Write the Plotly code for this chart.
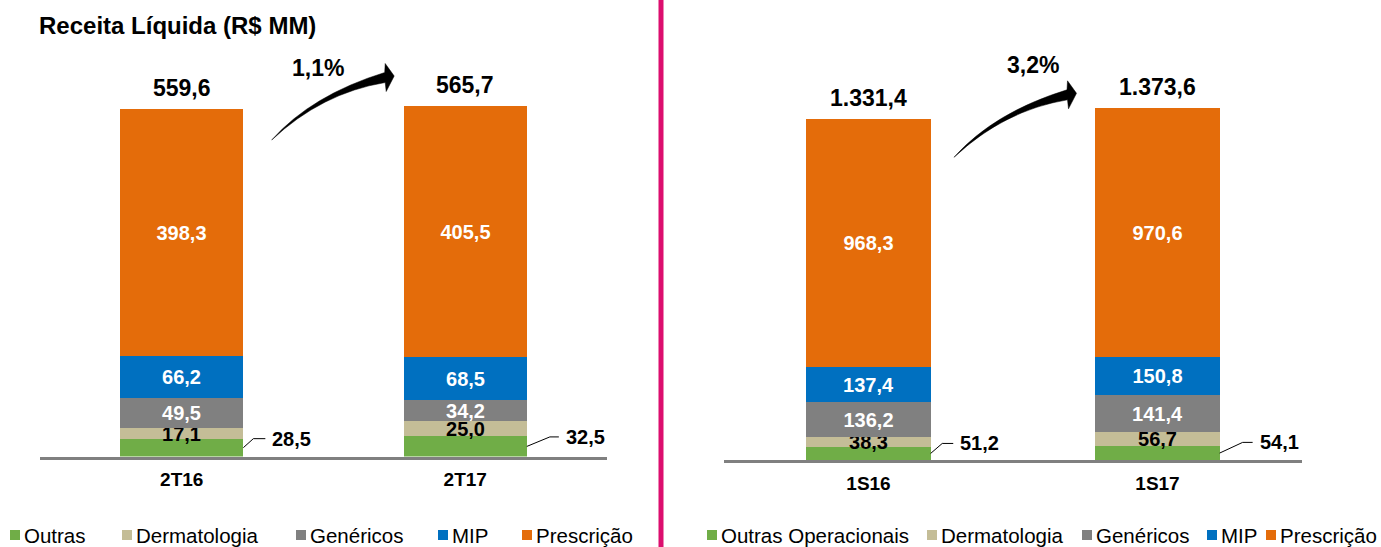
import plotly.graph_objects as go

# ---------------- data ----------------
quarters = ["2T16", "2T17"]
semesters = ["1S16", "1S17"]

segments_q = ["Outras", "Dermatologia", "Genéricos", "MIP", "Prescrição"]
segments_s = ["Outras Operacionais", "Dermatologia", "Genéricos", "MIP", "Prescrição"]

outras_q = [28.5, 32.5]
derm_q = [17.1, 25.0]
gen_q = [49.5, 34.2]
mip_q = [66.2, 68.5]
presc_q = [398.3, 405.5]
total_q = [559.6, 565.7]
growth_q = "1,1%"

outras_s = [51.2, 54.1]
derm_s = [38.3, 56.7]
gen_s = [136.2, 141.4]
mip_s = [137.4, 150.8]
presc_s = [968.3, 970.6]
total_s = [1331.4, 1373.6]
growth_s = "3,2%"

title = "Receita Líquida (R$ MM)"

# ---------------- style ----------------
colors = ["#70AD47", "#C4BD97", "#808080", "#0070C0", "#E46C0A"]
label_colors = ["black", "black", "white", "white", "white"]
FONT = "Liberation Sans, Arial, sans-serif"
W, H = 1381, 547


def px(x):
    return x / W


def py(y):
    return 1 - y / H


def fmt(v):
    s = f"{v:,.1f}"
    return s.replace(",", "X").replace(".", ",").replace("X", ".")


fig = go.Figure()

panels = [
    dict(cats=quarters, names=segments_q, vals=[outras_q, derm_q, gen_q, mip_q, presc_q],
         totals=total_q, xa="x", ya="y", width=0.4346),
    dict(cats=semesters, names=segments_s, vals=[outras_s, derm_s, gen_s, mip_s, presc_s],
         totals=total_s, xa="x2", ya="y2", width=0.43),
]

for p in panels:
    for k, (name, vals) in enumerate(zip(p["names"], p["vals"])):
        texts = ["" if k == 0 else fmt(v) for v in vals]
        fig.add_trace(go.Bar(
            x=p["cats"], y=vals, name=name, marker=dict(color=colors[k], line=dict(width=0)),
            width=p["width"], text=texts, textposition="inside", insidetextanchor="middle",
            textangle=0, constraintext="none",
            textfont=dict(family=FONT, size=20, color=label_colors[k], weight="bold"),
            xaxis=p["xa"], yaxis=p["ya"], showlegend=False, hoverinfo="skip",
        ))

# axes geometry
left_dom = (40, 607)
right_dom = (724, 1302)
left_base, right_base = 456.5, 460
left_ymax, right_ymax = 736, 1797

axis_common = dict(type="category", range=[-0.5, 1.5], showline=True, linecolor="#808080",
                   linewidth=2.5, ticks="", showgrid=False, zeroline=False,
                   tickfont=dict(family=FONT, size=19, color="black", weight="bold"),
                   ticklabelstandoff=4)
yaxis_common = dict(visible=False, showgrid=False, zeroline=False)

fig.update_layout(
    width=W, height=H, margin=dict(l=0, r=0, t=0, b=0, autoexpand=False),
    paper_bgcolor="white", plot_bgcolor="white", barmode="stack", bargap=0,
    showlegend=False,
    xaxis=dict(domain=[px(left_dom[0]), px(left_dom[1])], anchor="y", **axis_common),
    yaxis=dict(domain=[py(left_base), 1], range=[0, left_ymax], anchor="x", **yaxis_common),
    xaxis2=dict(domain=[px(right_dom[0]), px(right_dom[1])], anchor="y2", **axis_common),
    yaxis2=dict(domain=[py(right_base), 1], range=[0, right_ymax], anchor="x2", **yaxis_common),
)

annotations = []
shapes = []

# totals and leader lines
leader_px = [[(10, 22, 9), (23, 32, 9.5)], [(11.6, 22.6, 10), (23, 33, 10.7)]]
scales = [(left_dom, left_ymax, left_base), (right_dom, right_ymax, right_base)]
for pi, p in enumerate(panels):
    dom, ymax, base = scales[pi]
    cat_px = (dom[1] - dom[0]) / 2.0
    unit_px = base / ymax
    for i, cat in enumerate(p["cats"]):
        annotations.append(dict(
            x=i, y=p["totals"][i], xref=p["xa"], yref=p["ya"], text=fmt(p["totals"][i]),
            showarrow=False, yanchor="bottom", yshift=6,
            font=dict(family=FONT, size=23, color="black", weight="bold")))
        v = p["vals"][0][i]
        d1, d2, dy = leader_px[pi][i]
        x0 = i + p["width"] / 2
        y0 = v / 2
        x1 = x0 + d1 / cat_px
        x2 = x0 + d2 / cat_px
        y1 = y0 + dy / unit_px
        shapes.append(dict(type="path", xref=p["xa"], yref=p["ya"],
                           path=f"M {x0},{y0} L {x1},{y1} L {x2},{y1}",
                           line=dict(color="black", width=1)))
        annotations.append(dict(
            x=x2, y=y1, xref=p["xa"], yref=p["ya"], text=fmt(v), showarrow=False,
            xanchor="left", yanchor="middle", xshift=5,
            font=dict(family=FONT, size=20, color="black", weight="bold")))

# growth arrows (decorative) and percentages
arrow_tpl = dict(C_top=(40, -45), T_end=(113, -67.5), H1=(113.5, -76.5), tip=(122.5, -64),
                 H2=(114.5, -48.5), B_end=(113.5, -57.5), C_bot=(50, -47))


def arrow_path(tx, ty):
    def P(k):
        dx, dy = arrow_tpl[k]
        return f"{px(tx + dx)},{py(ty + dy)}"
    return (f"M {px(tx)},{py(ty)} Q {P('C_top')} {P('T_end')} L {P('H1')} L {P('tip')} "
            f"L {P('H2')} L {P('B_end')} Q {P('C_bot')} {px(tx)},{py(ty)} Z")


for (tx, ty), (lx, ly), g in [((271.7, 140), (318, 68), growth_q), ((954, 157.3), (1033, 65), growth_s)]:
    shapes.append(dict(type="path", xref="paper", yref="paper", path=arrow_path(tx, ty),
                       fillcolor="black", line=dict(color="black", width=0.5)))
    annotations.append(dict(x=px(lx), y=py(ly), xref="paper", yref="paper", text=g, showarrow=False,
                            xanchor="center", yanchor="middle",
                            font=dict(family=FONT, size=23, color="black", weight="bold")))

# title
annotations.append(dict(x=px(37), y=py(26), xref="paper", yref="paper", text=title, showarrow=False,
                        xanchor="left", yanchor="middle",
                        font=dict(family=FONT, size=24, color="black", weight="bold")))

# divider
shapes.append(dict(type="line", xref="paper", yref="paper", x0=px(661), x1=px(661), y0=0, y1=1,
                   line=dict(color="#DC0E6E", width=5)))

# legends (one per panel)
legend_pos = [[10, 122, 296, 438, 522], [707, 927, 1082, 1207, 1266]]
leg_y = 535
for names, pos in zip([segments_q, segments_s], legend_pos):
    for k, (n, x) in enumerate(zip(names, pos)):
        shapes.append(dict(type="rect", xref="paper", yref="paper", x0=px(x), x1=px(x + 10),
                           y0=py(leg_y + 5), y1=py(leg_y - 5), fillcolor=colors[k], line=dict(width=0)))
        annotations.append(dict(x=px(x + 12), y=py(leg_y), xref="paper", yref="paper", text=n,
                                showarrow=False, xanchor="left", yanchor="middle",
                                font=dict(family=FONT, size=20.5, color="black")))

fig.update_layout(annotations=annotations, shapes=shapes)
fig.write_html("out.html", config={"displayModeBar": False},
               post_script="document.body.style.margin='0';document.body.style.overflow='hidden';")
